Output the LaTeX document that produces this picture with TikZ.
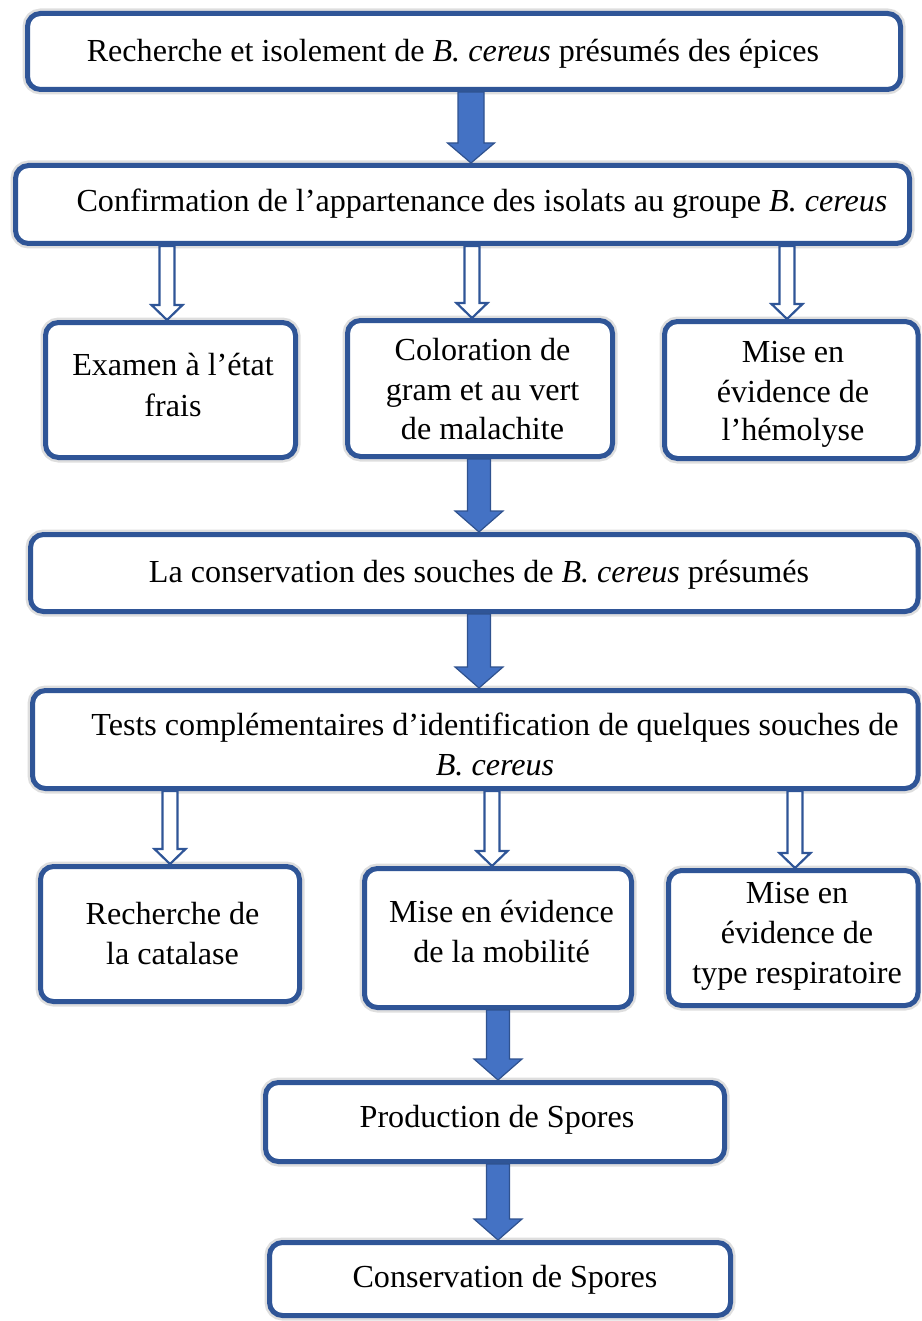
\documentclass[tikz,border=0pt]{standalone}
\usepackage{fontspec}
\setmainfont{Liberation Serif}
\usetikzlibrary{calc}
\definecolor{boxblue}{HTML}{2F5597}
\definecolor{arrfill}{HTML}{4472C4}
\definecolor{arrline}{HTML}{2F528F}
\tikzset{
  box/.style={draw=boxblue, line width=5pt, fill=white, rounded corners=13pt,
    preaction={draw=black!13, line width=10pt}},
  txt/.style={anchor=base, inner sep=0pt, font=\fontsize{32.1}{40}\selectfont},
  fatarr/.style={fill=arrfill, draw=arrline, line width=1.2pt, line join=miter},
  thinarr/.style={fill=white, draw=boxblue, line width=2.2pt, line join=miter},
}
% #1 from node, #2 to node, #3 x coordinate, #4 half shaft, #5 half head, #6 head length, #7 style
\newcommand\blockarr[7]{%
  \draw[#7] let \p1=(#1.south -| #3), \p2=(#2.north -| #3) in
    (\x1-#4,\y1) -- (\x1-#4,\y2+#6) -- (\x1-#5,\y2+#6) -- (\x1,\y2)
    -- (\x1+#5,\y2+#6) -- (\x1+#4,\y2+#6) -- (\x1+#4,\y1) -- cycle;}
\begin{document}
\begin{tikzpicture}[x=1pt,y=-1pt]
\useasboundingbox (0,0) rectangle (921,1321);
\clip (0,0) rectangle (921,1321);
% boxes
\node[box, minimum width=873pt, minimum height=76pt] (b1) at (464,51.5) {};
\node[box, minimum width=894pt, minimum height=78pt] (b2) at (462.5,204.5) {};
\node[box, minimum width=250pt, minimum height=135pt] (r3a) at (170.5,390) {};
\node[box, minimum width=265pt, minimum height=136pt] (r3b) at (480,388.5) {};
\node[box, minimum width=253.5pt, minimum height=137pt] (r3c) at (791.25,390) {};
\node[box, minimum width=887.5pt, minimum height=77pt] (b4) at (474.25,573) {};
\node[box, minimum width=885.5pt, minimum height=98pt] (b5) at (475.25,739.5) {};
\node[box, minimum width=259pt, minimum height=135pt] (r6a) at (170,934) {};
\node[box, minimum width=267pt, minimum height=139pt] (r6b) at (498,938) {};
\node[box, minimum width=249.5pt, minimum height=135pt] (r6c) at (793.25,938) {};
\node[box, minimum width=459pt, minimum height=79pt] (b7) at (495,1122) {};
\node[box, minimum width=461pt, minimum height=73pt] (b8) at (500,1279) {};
% texts
\node[txt] (t1) at (453,62) {Recherche et isolement de \textit{B. cereus} présumés des épices};
\node[txt] (t2) at (482,212) {Confirmation de l’appartenance des isolats au groupe \textit{B. cereus}};
\node[txt] (t3a1) at (173,375) {Examen à l’état};
\node[txt] (t3a2) at (173,416) {frais};
\node[txt] (t3b1) at (482.5,360) {Coloration de};
\node[txt] (t3b2) at (482.5,400) {gram et au vert};
\node[txt] (t3b3) at (482.5,439) {de malachite};
\node[txt] (t3c1) at (793,362) {Mise en};
\node[txt] (t3c2) at (793,402) {évidence de};
\node[txt] (t3c3) at (793,440) {l’hémolyse};
\node[txt] (t4) at (479,582) {La conservation des souches de \textit{B. cereus} présumés};
\node[txt] (t5a) at (495,735) {Tests complémentaires d’identification de quelques souches de};
\node[txt] (t5b) at (495,775) {\textit{B. cereus}};
\node[txt] (t6a1) at (172.5,924) {Recherche de};
\node[txt] (t6a2) at (172.5,964) {la catalase};
\node[txt] (t6b1) at (501.5,922) {Mise en évidence};
\node[txt] (t6b2) at (501.5,962) {de la mobilité};
\node[txt] (t6c1) at (797,903) {Mise en};
\node[txt] (t6c2) at (797,943) {évidence de};
\node[txt] (t6c3) at (797,983) {type respiratoire};
\node[txt] (t7) at (497,1127) {Production de Spores};
\node[txt] (t8) at (505,1287) {Conservation de Spores};
% arrow x positions
\coordinate (xa1) at (471,0);
\coordinate (xa2) at (479,0);
\coordinate (xa3) at (479,0);
\coordinate (xa4) at (498,0);
\coordinate (xa5) at (498,0);
\coordinate (xh1) at (167,0);
\coordinate (xh2) at (472,0);
\coordinate (xh3) at (787,0);
\coordinate (xh4) at (170,0);
\coordinate (xh5) at (492,0);
\coordinate (xh6) at (795,0);
% filled arrows
\blockarr{b1}{b2}{xa1}{13pt}{23.5pt}{20pt}{fatarr}
\blockarr{r3b}{b4}{xa2}{11.5pt}{24pt}{21pt}{fatarr}
\blockarr{b4}{b5}{xa3}{11.5pt}{24pt}{21pt}{fatarr}
\blockarr{r6b}{b7}{xa4}{11.5pt}{24pt}{21pt}{fatarr}
\blockarr{b7}{b8}{xa5}{11.5pt}{24pt}{21pt}{fatarr}
% hollow arrows
\blockarr{b2}{r3a}{xh1}{7.5pt}{15.5pt}{15pt}{thinarr}
\blockarr{b2}{r3b}{xh2}{7.5pt}{15.5pt}{15pt}{thinarr}
\blockarr{b2}{r3c}{xh3}{7.5pt}{15.5pt}{15pt}{thinarr}
\blockarr{b5}{r6a}{xh4}{7.5pt}{15.5pt}{15pt}{thinarr}
\blockarr{b5}{r6b}{xh5}{7.5pt}{15.5pt}{15pt}{thinarr}
\blockarr{b5}{r6c}{xh6}{7.5pt}{15.5pt}{15pt}{thinarr}
\end{tikzpicture}
\end{document}
